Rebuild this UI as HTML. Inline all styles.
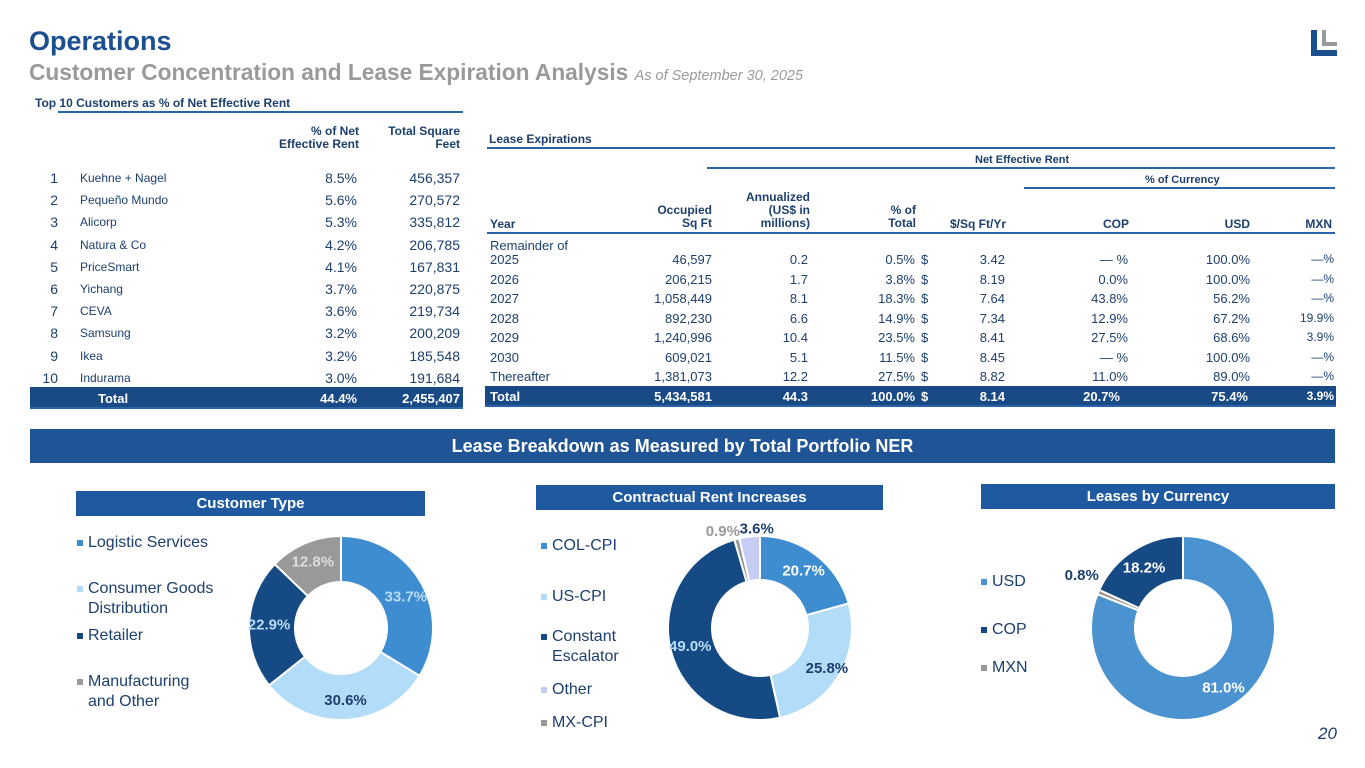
<!DOCTYPE html>
<html><head><meta charset="utf-8"><style>
*{margin:0;padding:0;box-sizing:border-box}
body{width:1365px;height:768px;overflow:hidden;background:#fff;font-family:"Liberation Sans",Arial,sans-serif;position:relative;color:#1c3f6e}
.a{position:absolute;white-space:nowrap}
.r{text-align:right}
.b{font-weight:bold}
.ln{position:absolute;height:2px;background:#2a64a8}
.bar{position:absolute;background:#1f5aa0;color:#fff;font-weight:bold;text-align:center}
</style></head><body>
<div class="a b" style="left:29px;top:26px;font-size:27px;color:#1b4f8f">Operations</div>
<div class="a b" style="left:29px;top:59px;font-size:22.7px;color:#9a9a9a">Customer Concentration and Lease Expiration Analysis <span style="font-weight:normal;font-style:italic;font-size:14.5px">As of September 30, 2025</span></div>
<svg class="a" style="left:1309px;top:28px" width="30" height="30"><path d="M2 2h6v20h20v6H2z" fill="#1b4f8f"/><path d="M13 2h4v12h11v4H13z" fill="#9a9a9a"/></svg>

<div>
<div class="a b" style="left:35px;top:96px;font-size:12px">Top 10 Customers as % of Net Effective Rent</div>
<div class="ln" style="left:58px;top:111px;width:405px"></div>
<div class="a b r" style="left:240px;top:125px;width:119px;font-size:12px;line-height:13px">% of Net<br>Effective Rent</div>
<div class="a b r" style="left:370px;top:125px;width:90px;font-size:12px;line-height:13px">Total Square<br>Feet</div>
<div id="t1rows"></div>
<div class="a" style="left:30px;top:387px;width:433px;height:22px;background:#1a4a86;border-bottom:2px solid #2a64a8"></div>
<div class="a b" style="left:98px;top:391px;font-size:13px;color:#fff">Total</div>
<div class="a b r" style="left:280px;top:391px;width:77px;font-size:13px;color:#fff">44.4%</div>
<div class="a b r" style="left:360px;top:391px;width:100px;font-size:13px;color:#fff">2,455,407</div>
</div>

<div>
<div class="a b" style="left:489px;top:132px;font-size:12px">Lease Expirations</div>
<div class="ln" style="left:487px;top:147px;width:848px"></div>
<div class="a b" style="left:975px;top:154px;font-size:11px">Net Effective Rent</div>
<div class="ln" style="left:707px;top:167px;width:628px"></div>
<div class="a b" style="left:1145px;top:174px;font-size:11px">% of Currency</div>
<div class="ln" style="left:1024px;top:187px;width:311px"></div>
<div class="a b" style="left:490px;top:217px;font-size:12px">Year</div>
<div class="a b r" style="left:620px;top:204px;width:92px;font-size:12px;line-height:13px">Occupied<br>Sq Ft</div>
<div class="a b r" style="left:700px;top:191px;width:110px;font-size:12px;line-height:13px">Annualized<br>(US$ in<br>millions)</div>
<div class="a b r" style="left:840px;top:204px;width:76px;font-size:12px;line-height:13px">% of<br>Total</div>
<div class="a b r" style="left:940px;top:217px;width:66px;font-size:12px">$/Sq Ft/Yr</div>
<div class="a b r" style="left:1060px;top:217px;width:69px;font-size:12px">COP</div>
<div class="a b r" style="left:1180px;top:217px;width:70px;font-size:12px">USD</div>
<div class="a b r" style="left:1260px;top:217px;width:72px;font-size:12px">MXN</div>
<div class="ln" style="left:487px;top:232px;width:848px"></div>
<div class="a" style="left:490px;top:238px;font-size:13px">Remainder of</div>
<div id="t2rows"></div>
<div class="a" style="left:485px;top:386px;width:851px;height:21px;background:#1a4a86;border-bottom:2px solid #2a64a8"></div>
<div id="t2total"></div>
</div>

<div class="bar" style="left:30px;top:429px;width:1305px;height:34px;font-size:18px;line-height:34px;color:#fff;background:#1f5596">Lease Breakdown as Measured by Total Portfolio NER</div>
<div class="bar" style="left:76px;top:491px;width:349px;height:25px;font-size:15px;line-height:25px">Customer Type</div>
<div class="bar" style="left:536px;top:485px;width:347px;height:25px;font-size:15px;line-height:25px">Contractual Rent Increases</div>
<div class="bar" style="left:981px;top:484px;width:354px;height:25px;font-size:15px;line-height:25px">Leases by Currency</div>

<svg id="charts" class="a" style="left:0;top:0" width="1365" height="768"></svg>
<div class="a" style="left:1318px;top:724px;font-size:17px;color:#1c3f6e;font-style:italic">20</div>

<script>
const custNames=["Kuehne + Nagel","Pequeño Mundo","Alicorp","Natura & Co","PriceSmart","Yichang","CEVA","Samsung","Ikea","Indurama"];
const custPct=["8.5%","5.6%","5.3%","4.2%","4.1%","3.7%","3.6%","3.2%","3.2%","3.0%"];
const custSqft=["456,357","270,572","335,812","206,785","167,831","220,875","219,734","200,209","185,548","191,684"];
const leaseYears=["2025","2026","2027","2028","2029","2030","Thereafter"];
const leaseSqft=["46,597","206,215","1,058,449","892,230","1,240,996","609,021","1,381,073"];
const leaseAnn=["0.2","1.7","8.1","6.6","10.4","5.1","12.2"];
const leasePctTotal=["0.5%","3.8%","18.3%","14.9%","23.5%","11.5%","27.5%"];
const leaseRate=["3.42","8.19","7.64","7.34","8.41","8.45","8.82"];
const leaseCOP=["— %","0.0%","43.8%","12.9%","27.5%","— %","11.0%"];
const leaseUSD=["100.0%","100.0%","56.2%","67.2%","68.6%","100.0%","89.0%"];
const leaseMXN=["—%","—%","—%","19.9%","3.9%","—%","—%"];
const leaseTotal=["Total","5,434,581","44.3","100.0%","8.14","20.7%","75.4%","3.9%"];
const custTypeLabels=["Logistic Services","Consumer Goods Distribution","Retailer","Manufacturing and Other"];
const custTypeValues=[33.7,30.6,22.9,12.8];
const rentLabels=["COL-CPI","US-CPI","Constant Escalator","MX-CPI","Other"];
const rentValues=[20.7,25.8,49.0,0.9,3.6];
const currLabels=["USD","MXN","COP"];
const currValues=[81.0,0.8,18.2];

function cell(parent,txt,x,y,w,cls,style){
  const d=document.createElement('div');
  d.className='a '+(cls||'');
  d.style.cssText=`left:${x}px;top:${y}px;${w?'width:'+w+'px;':''}font-size:13px;${style||''}`;
  d.textContent=txt;
  
  
  parent.appendChild(d);
}
const t1=document.getElementById('t1rows');
custNames.forEach((n,i)=>{
  const y=170+i*22.2;
  cell(t1,String(i+1),30,y,28,'r','font-size:14px');
  cell(t1,n,80,y+1,0,'','font-size:12px');
  cell(t1,custPct[i],280,y,77,'r','font-size:14px');
  cell(t1,custSqft[i],360,y,100,'r','font-size:14px');
});
const t2=document.getElementById('t2rows');
const ys=[252,272,291,311,330,350,369];
leaseYears.forEach((yr,i)=>{
  const y=ys[i];
  cell(t2,yr,490,y,0,'');
  cell(t2,leaseSqft[i],620,y,92,'r');
  cell(t2,leaseAnn[i],730,y,78,'r');
  cell(t2,leasePctTotal[i],840,y,75,'r');
  cell(t2,'$',921,y,0,'');
  cell(t2,leaseRate[i],940,y,65,'r');
  cell(t2,leaseCOP[i],1040,y,88,'r');
  cell(t2,leaseUSD[i],1160,y,90,'r');
  cell(t2,leaseMXN[i],1260,y,74,'r','font-size:12px');
});
const tt=document.getElementById('t2total');
const ty=389, st='color:#fff;font-weight:bold';
cell(tt,leaseTotal[0],490,ty,0,'',st);
cell(tt,leaseTotal[1],620,ty,92,'r',st);
cell(tt,leaseTotal[2],730,ty,78,'r',st);
cell(tt,leaseTotal[3],840,ty,75,'r',st);
cell(tt,'$',921,ty,0,'',st);
cell(tt,leaseTotal[4],940,ty,65,'r',st);
cell(tt,leaseTotal[5],1040,ty,80,'r',st);
cell(tt,leaseTotal[6],1160,ty,88,'r',st);
cell(tt,leaseTotal[7],1260,ty,74,'r',st+';font-size:12px');

const NS='http://www.w3.org/2000/svg';
const svg=document.getElementById('charts');
function mk(tag,attrs){const e=document.createElementNS(NS,tag);for(const k in attrs)e.setAttribute(k,attrs[k]);svg.appendChild(e);return e;}
function pt(cx,cy,r,a){return [cx+r*Math.sin(a),cy-r*Math.cos(a)];}
function donut(name,cx,cy,R,ri,values,colors,labelCols,labelOff){
  const tot=values.reduce((s,v)=>s+v,0);let a0=0;
  values.forEach((v,i)=>{
    const a1=a0+v/tot*2*Math.PI;
    const [x1,y1]=pt(cx,cy,R,a0),[x2,y2]=pt(cx,cy,R,a1),[x3,y3]=pt(cx,cy,ri,a1),[x4,y4]=pt(cx,cy,ri,a0);
    const lg=(a1-a0)>Math.PI?1:0;
    const p=mk('path',{d:`M${x1},${y1}A${R},${R} 0 ${lg} 1 ${x2},${y2}L${x3},${y3}A${ri},${ri} 0 ${lg} 0 ${x4},${y4}Z`,fill:colors[i],stroke:'#fff','stroke-width':2});
    
    
    const am=(a0+a1)/2;const off=labelOff[i];
    const [lx,ly]=pt(cx,cy,off[0],am);
    const t=mk('text',{x:lx+off[1],y:ly+off[2]+5,'text-anchor':'middle','font-size':15,'font-weight':'bold',fill:labelCols[i],'font-family':'Liberation Sans, sans-serif'});
    t.textContent=v.toFixed(1)+'%';
    
    
    a0=a1;
  });
}
donut('customer-type',341,628,92,46,custTypeValues,['#3e8dd0','#b3dcf8','#154a85','#999999'],['#b9dcf6','#1c3f6e','#b9dcf6','#dddddd'],[[72,2,4],[72,0,0],[72,0,0],[72,0,0]]);
donut('rent-increases',760,628,92,48,rentValues,['#3e8dd0','#b3dcf8','#154a85','#999999','#c5cdf5'],['#ffffff','#1c3f6e','#b9dcf6','#999999','#1c3f6e'],[[72,0,0],[78,0,0],[72,0,0],[100,-12,0],[100,8,0]]);
donut('currency',1183,628,92,48,currValues,['#4a93d0','#999999','#154a85'],['#ffffff','#1c3f6e','#ffffff'],[[72,0,0],[110,0,-10],[72,0,0]]);

function legend(x,items,ys,colors){
  items.forEach((s,i)=>{
    const r=mk('rect',{x:x,y:ys[i]-5,width:6,height:6,fill:colors[i]});
    
    
    s.forEach((line,j)=>{
      const t=mk('text',{x:x+11,y:ys[i]+2+j*20,'font-size':16,fill:'#1c3f6e','font-family':'Liberation Sans, sans-serif'});
      t.textContent=line;
      
      
    });
  });
}
legend(77,[["Logistic Services"],["Consumer Goods","Distribution"],["Retailer"],["Manufacturing","and Other"]],[545,591,638,684],['#3e8dd0','#b3dcf8','#154a85','#999999']);
legend(541,[["COL-CPI"],["US-CPI"],["Constant","Escalator"],["Other"],["MX-CPI"]],[548,599,639,692,725],['#3e8dd0','#b3dcf8','#154a85','#c5cdf5','#999999']);
legend(981,[["USD"],["COP"],["MXN"]],[584,632,670],['#4a93d0','#154a85','#999999']);
</script>
</body></html>
